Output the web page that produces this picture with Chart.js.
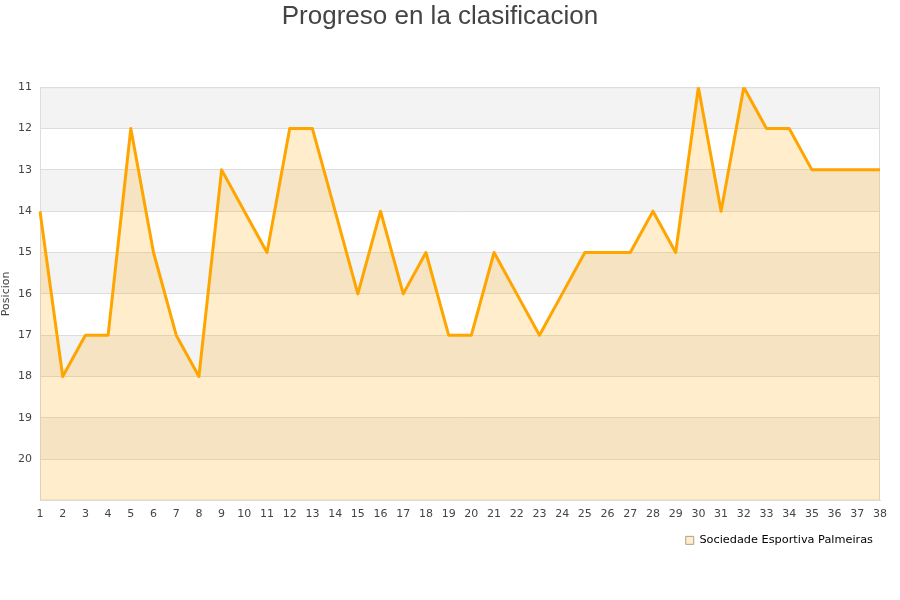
<!DOCTYPE html>
<html>
<head>
<meta charset="utf-8">
<script src="https://cdn.jsdelivr.net/npm/chart.js@4/dist/chart.umd.min.js"></script>
<style>
  html, body { margin: 0; padding: 0; background: #fff; }
  #wrap { width: 900px; height: 600px; }
</style>
</head>
<body>
<div id="wrap"><canvas id="chartPosicion" width="900" height="600"></canvas></div>
<script>
// jornadas 1..38
const jornadas = ['1','2','3','4','5','6','7','8','9','10','11','12','13','14','15','16','17','18','19',
  '20','21','22','23','24','25','26','27','28','29','30','31','32','33','34','35','36','37','38'];
// posicion en cada jornada
const posiciones = [14, 18, 17, 17, 12, 15, 17, 18, 13, 14, 15, 12, 12, 14, 16, 14, 16, 15, 17,
  17, 15, 16, 17, 16, 15, 15, 15, 14, 15, 11, 14, 11, 12, 12, 13, 13, 13, 13];
const equipo = 'Sociedade Esportiva Palmeiras';
const yTicks = [11, 12, 13, 14, 15, 16, 17, 18, 19, 20];
const bandas = [11, 13, 15, 17, 19]; // franjas grises

// franjas alternas de fondo + borde del area
const bandasPlugin = {
  id: 'bandas',
  beforeDraw(chart){
    const {ctx, chartArea, scales} = chart;
    ctx.save();
    ctx.fillStyle = '#f3f3f3';
    bandas.forEach(v => {
      const y1 = scales.y.getPixelForValue(v);
      const y2 = scales.y.getPixelForValue(v + 1);
      ctx.fillRect(chartArea.left, y1, chartArea.right - chartArea.left, y2 - y1);
    });
    ctx.restore();
  },
  beforeDatasetsDraw(chart){
    const {ctx, chartArea} = chart;
    ctx.save();
    ctx.strokeStyle = '#dddddd';
    ctx.lineWidth = 1;
    ctx.strokeRect(chartArea.left + 0.5, chartArea.top + 0.5, chartArea.right - chartArea.left - 1, chartArea.bottom - chartArea.top - 1);
    ctx.restore();
  }
};

const ctx = document.getElementById('chartPosicion').getContext('2d');
new Chart(ctx, {
  type: 'line',
  data: {
    labels: jornadas,
    datasets: [{
      label: equipo,
      data: posiciones,
      borderColor: '#ffa500',
      backgroundColor: 'rgba(255,165,0,0.2)',
      borderWidth: 3,
      borderJoinStyle: 'round',
      pointRadius: 0,
      tension: 0,
      fill: { value: 21 }
    }]
  },
  options: {
    responsive: false,
    animation: false,
    layout: { padding: { top: 1, right: 20, bottom: 44, left: 0 } },
    scales: {
      x: {
        offset: false,
        grid: { display: false, drawTicks: false },
        border: { display: true, color: '#dddddd' },
        ticks: { color: '#444', font: { family: 'DejaVu Sans', size: 11 }, maxRotation: 0, autoSkip: false, padding: 7 }
      },
      y: {
        reverse: true,
        min: 11,
        max: 21,
        afterFit(scale){ scale.width = 40; },
        afterBuildTicks(scale){ scale.ticks = yTicks.map(v => ({ value: v })); },
        grid: { color: '#dddddd', drawTicks: false },
        border: { display: true, color: '#dddddd' },
        title: { display: true, text: 'Posicion', color: '#444', font: { family: 'DejaVu Sans', size: 11 }, padding: 0 },
        ticks: { color: '#444', font: { family: 'DejaVu Sans', size: 11 }, padding: 8 }
      }
    },
    plugins: {
      title: {
        display: true,
        text: 'Progreso en la clasificacion',
        color: '#444',
        font: { family: 'Liberation Sans', size: 26, weight: 'normal' },
        padding: { top: 0, bottom: 55 }
      },
      legend: {
        position: 'bottom',
        align: 'end',
        labels: {
          color: '#000',
          font: { family: 'DejaVu Sans', size: 11.3 },
          boxWidth: 8,
          boxHeight: 8,
          padding: 7,
          generateLabels(chart){
            return [{
              text: equipo,
              fillStyle: 'rgba(255,165,0,0.2)',
              strokeStyle: '#b0a080',
              lineWidth: 1,
              datasetIndex: 0
            }];
          }
        }
      },
      tooltip: { enabled: false }
    }
  },
  plugins: [bandasPlugin]
});
</script>
</body>
</html>
